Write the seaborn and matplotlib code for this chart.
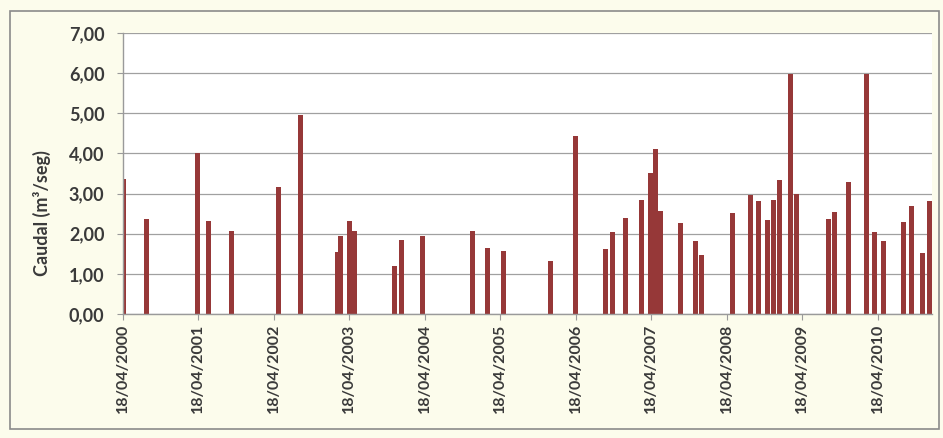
import datetime as dt
import numpy as np
import pandas as pd
import matplotlib
matplotlib.use("Agg")
import matplotlib.pyplot as plt
import matplotlib.dates as mdates
from matplotlib.patches import Rectangle
import seaborn as sns

fechas = [
    "2000-04-25", "2000-08-12", "2001-04-16", "2001-06-08", "2001-09-27",
    "2002-05-12", "2002-08-26", "2003-02-21", "2003-03-07", "2003-04-20",
    "2003-05-14", "2003-11-23", "2003-12-27", "2004-04-08", "2004-12-06",
    "2005-02-16", "2005-05-05", "2005-12-18", "2006-04-18", "2006-09-11",
    "2006-10-15", "2006-12-16", "2007-03-04", "2007-04-16", "2007-05-10",
    "2007-06-03", "2007-09-07", "2007-11-18", "2007-12-17", "2008-05-17",
    "2008-08-12", "2008-09-20", "2008-11-02", "2008-12-01", "2008-12-30",
    "2009-02-21", "2009-03-22", "2009-08-24", "2009-09-22", "2009-11-28",
    "2010-02-23", "2010-04-03", "2010-05-17", "2010-08-22", "2010-09-30",
    "2010-11-22", "2010-12-26",
]
caudal = [
    3.35, 2.37, 4.00, 2.32, 2.06,
    3.17, 4.96, 1.54, 1.94, 2.31,
    2.07, 1.19, 1.85, 1.94, 2.06,
    1.65, 1.57, 1.33, 4.43, 1.62,
    2.04, 2.40, 2.83, 3.52, 4.12,
    2.56, 2.27, 1.83, 1.46, 2.52,
    2.96, 2.81, 2.35, 2.85, 3.33,
    5.98, 3.00, 2.37, 2.54, 3.29,
    5.98, 2.04, 1.83, 2.29, 2.68,
    1.52, 2.81,
]
anios_tick = list(range(2000, 2011))

df = pd.DataFrame({"fecha": pd.to_datetime(fechas), "caudal": caudal})
df["x"] = mdates.date2num(df["fecha"])

sns.set_theme(style="whitegrid")
plt.rcParams["font.family"] = ["Lato", "DejaVu Sans"]

fig = plt.figure(figsize=(9.43, 4.38), dpi=100)
fig.patch.set_facecolor("#fcfcec")
fig.patches.append(Rectangle((0.011, 0.02), 0.985, 0.955, transform=fig.transFigure,
                             fill=False, edgecolor="#8a8a8a", linewidth=1.2))
ax = fig.add_axes([0.130, 0.283, 0.858, 0.642])
ax.set_facecolor("white")

# bar width of about 23 days on the native date scale
min_gap = np.min(np.diff(np.unique(df["x"])))
sns.barplot(data=df, x="x", y="caudal", native_scale=True, width=23 / min_gap,
            color="#963838", saturation=1, errorbar=None, ax=ax, linewidth=0)

ax.set_xlim(mdates.date2num(dt.date(2000, 4, 18)), mdates.date2num(dt.date(2011, 1, 4)))
ax.set_ylim(0, 7)
ax.set_yticks(range(0, 8))
ax.set_yticklabels([f"{v:.2f}".replace(".", ",") for v in range(0, 8)],
                   fontsize=13, fontweight="bold", color="#3a3a3a")
ticks = [mdates.date2num(dt.date(a, 4, 18)) for a in anios_tick]
ax.set_xticks(ticks)
ax.set_xticklabels([f"18/04/{a}" for a in anios_tick], rotation=90,
                   fontsize=11.5, fontweight="bold", color="#3a3a3a")
ax.set_xlabel("")
ax.set_ylabel("Caudal (m³/seg)", fontsize=13, fontweight="bold", color="#3a3a3a")
ax.yaxis.set_label_coords(-0.088, 0.36)

ax.grid(axis="x", visible=False)
ax.grid(axis="y", color="#a0a0a0", linewidth=0.9)
for s in ["top", "right"]:
    ax.spines[s].set_visible(False)
for s in ["left", "bottom"]:
    ax.spines[s].set_color("#9a9a9a")
    ax.spines[s].set_linewidth(1)
ax.tick_params(axis="both", length=4, width=0.8, color="#9a9a9a", bottom=True, left=True)
ax.tick_params(axis="y", pad=9)
ax.tick_params(axis="x", pad=3)

fig.savefig("out.png", dpi=100, facecolor=fig.get_facecolor())
